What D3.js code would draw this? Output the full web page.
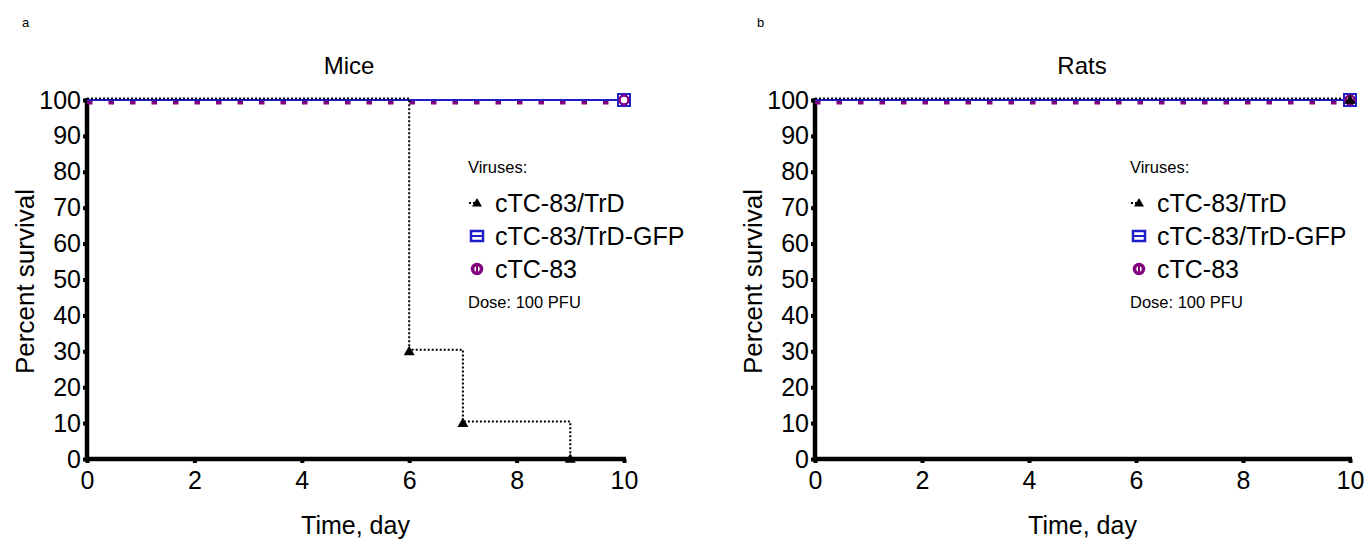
<!DOCTYPE html>
<html>
<head>
<meta charset="utf-8">
<script src="https://cdn.jsdelivr.net/npm/d3@7"></script>
<style>
body { margin: 0; background: #fff; }
svg text { font-family: "Liberation Sans", Arial, sans-serif; fill: #000; }
</style>
</head>
<body>
<div id="chart"></div>
<script>
var days = [0, 2, 4, 6, 8, 10];
var yTicks = [0, 10, 20, 30, 40, 50, 60, 70, 80, 90, 100];
var viruses = ["cTC-83/TrD", "cTC-83/TrD-GFP", "cTC-83"];
var colors = ["#000000", "#1f1fc8", "#800080"];

// survival steps: [day, percent]
var miceTrD = [[0, 100], [6, 100], [6, 30], [7, 30], [7, 10], [9, 10], [9, 0]];
var miceTrDMarks = [[6, 30], [7, 10], [9, 0]];
var miceGFP = [[0, 100], [10, 100]];
var miceCTC = [[0, 100], [10, 100]];
var ratsTrD = [[0, 100], [10, 100]];
var ratsTrDMarks = [[10, 100]];
var ratsGFP = [[0, 100], [10, 100]];
var ratsCTC = [[0, 100], [10, 100]];

var svg = d3.select("#chart").append("svg")
    .attr("width", 1367)
    .attr("height", 540);

var panels = [
    {tag: "a", title: "Mice", x0: 87, x1: 624, tagX: 22, titleX: 349, legX: 468,
     series: [miceTrD, miceGFP, miceCTC], marks: miceTrDMarks},
    {tag: "b", title: "Rats", x0: 815, x1: 1350, tagX: 757, titleX: 1082, legX: 1130,
     series: [ratsTrD, ratsGFP, ratsCTC], marks: ratsTrDMarks}
];

var yTop = 100, yBot = 459;

function triangle(g, x, y, s) {
    g.append("path")
        .attr("d", `M${x},${y - s}L${x + s},${y + s * 0.7}L${x - s},${y + s * 0.7}Z`)
        .attr("fill", "#000");
}

panels.forEach(function(p) {
    var xScale = d3.scaleLinear().domain([0, 10]).range([p.x0, p.x1]);
    var yScale = d3.scaleLinear().domain([0, 100]).range([yBot, yTop]);
    var g = svg.append("g");

    // Axes
    var xAxis = d3.axisBottom(xScale).tickValues(days).tickSize(4).tickPadding(8);
    var yAxis = d3.axisLeft(yScale).tickValues(yTicks).tickSize(4).tickPadding(2);
    var gx = g.append("g").attr("transform", `translate(0, ${yBot})`).call(xAxis);
    var gy = g.append("g").attr("transform", `translate(${p.x0}, 0)`).call(yAxis);
    [gx, gy].forEach(function(a) {
        a.select(".domain").attr("stroke", "#000").attr("stroke-width", 4.5)
            .attr("d", a === gx ? `M${p.x0 - 2},0H${p.x1 + 2}` : `M0,${yTop - 2}V${yBot + 2}`);
        a.selectAll(".tick line").attr("stroke", "#000").attr("stroke-width", 4);
        a.selectAll(".tick text").attr("font-size", 25)
            .style("font-family", "'Liberation Sans', Arial, sans-serif");
    });

    var line = d3.line().x(d => xScale(d[0])).y(d => yScale(d[1]));

    // cTC-83 purple square dashes, slightly below
    g.append("path").datum(p.series[2])
        .attr("d", line).attr("transform", "translate(0,2.5)")
        .attr("fill", "none").attr("stroke", colors[2]).attr("stroke-width", 4)
        .attr("stroke-dasharray", "5.5,16");
    // GFP blue solid
    g.append("path").datum(p.series[1])
        .attr("d", line)
        .attr("fill", "none").attr("stroke", colors[1]).attr("stroke-width", 2);
    // TrD black dotted
    g.append("path").datum(p.series[0])
        .attr("d", line).attr("transform", "translate(0,-1.5)")
        .attr("fill", "none").attr("stroke", colors[0]).attr("stroke-width", 2)
        .attr("stroke-dasharray", "2,2");

    // end markers at day 10
    var ex = xScale(10), ey = yScale(100);
    g.append("rect").attr("x", ex - 6).attr("y", ey - 6).attr("width", 12).attr("height", 12)
        .attr("fill", "#fff").attr("stroke", colors[1]).attr("stroke-width", 2);
    g.append("circle").attr("cx", ex).attr("cy", ey).attr("r", 4.5)
        .attr("fill", "#fff").attr("stroke", colors[2]).attr("stroke-width", 2.5);
    p.marks.forEach(function(m) {
        triangle(g, xScale(m[0]), yScale(m[1]), 5.5);
    });

    // titles and labels
    svg.append("text").attr("x", p.tagX).attr("y", 27).attr("font-size", 13).text(p.tag);
    svg.append("text").attr("x", p.titleX).attr("y", 74)
        .attr("text-anchor", "middle").attr("font-size", 24).text(p.title);
    svg.append("text").attr("x", (p.x0 + p.x1) / 2).attr("y", 534)
        .attr("text-anchor", "middle").attr("font-size", 25).text("Time, day");
    svg.append("text").attr("transform", `translate(${p.x0 - 53}, ${(yTop + yBot) / 2 + 2}) rotate(-90)`)
        .attr("text-anchor", "middle").attr("font-size", 26).text("Percent survival");

    // legend
    var lx = p.legX;
    svg.append("text").attr("x", lx).attr("y", 173).attr("font-size", 16.5).text("Viruses:");
    viruses.forEach(function(v, i) {
        var ly = 203 + i * 33;
        var sx = lx + 9;
        if (i === 0) {
            g.append("line").attr("x1", sx - 8).attr("x2", sx).attr("y1", ly).attr("y2", ly)
                .attr("stroke", "#000").attr("stroke-width", 2).attr("stroke-dasharray", "2,2");
            triangle(g, sx, ly, 5);
        } else if (i === 1) {
            g.append("rect").attr("x", sx - 6).attr("y", ly - 5).attr("width", 12).attr("height", 10)
                .attr("fill", "#fff").attr("stroke", colors[1]).attr("stroke-width", 2.5);
            g.append("line").attr("x1", sx - 6).attr("x2", sx + 6).attr("y1", ly).attr("y2", ly)
                .attr("stroke", colors[1]).attr("stroke-width", 2);
        } else {
            g.append("circle").attr("cx", sx).attr("cy", ly).attr("r", 4.5)
                .attr("fill", "#fff").attr("stroke", colors[2]).attr("stroke-width", 3.5);
            g.append("line").attr("x1", sx).attr("x2", sx).attr("y1", ly - 6).attr("y2", ly + 6)
                .attr("stroke", colors[2]).attr("stroke-width", 2);
        }
        svg.append("text").attr("x", lx + 27).attr("y", ly + 9)
            .attr("font-size", 25).text(v);
    });
    svg.append("text").attr("x", lx).attr("y", 308).attr("font-size", 16.5).text("Dose: 100 PFU");
});
</script>
</body>
</html>
